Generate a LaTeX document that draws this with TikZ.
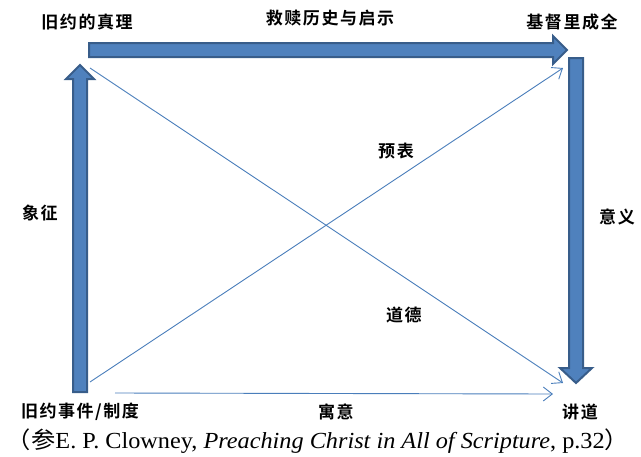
\documentclass[tikz,border=0pt]{standalone}
\usepackage{fontspec}
\usetikzlibrary{arrows.meta}
\newfontfamily\cjk{Noto Sans CJK SC}[LetterSpace=9, BoldFont={Noto Sans CJK SC Bold}]
\newfontfamily\cjkplain{Noto Sans CJK SC}
\newfontfamily\latn{Liberation Serif}
\definecolor{blockfill}{HTML}{4F81BD}
\definecolor{blockedge}{HTML}{385D8A}
\definecolor{thinline}{HTML}{4A7EBB}
\tikzset{
  lbl/.style={font=\cjk\bfseries\fontsize{17}{19}\selectfont, inner sep=0pt},
  blockarrow/.style={fill=blockfill, draw=blockedge, line width=2pt, line join=miter},
  thinarrow/.style={draw=thinline, line width=0.9pt, -{Straight Barb[length=9pt,width=14pt,line width=0.9pt]}}
}
\begin{document}
\begin{tikzpicture}[x=1pt,y=-1pt]
\useasboundingbox (0,0) rectangle (641,456);
% labels
\node[lbl] (ot) at (87,22) {旧约的真理};
\node[lbl] (rh) at (330,18) {救赎历史与启示};
\node[lbl] (cf) at (572,22) {基督里成全};
\node[lbl] (sym) at (40,213) {象征};
\node[lbl] (mean) at (617,217) {意义};
\node[lbl] (typ) at (396,151) {预表};
\node[lbl] (mor) at (404,315) {道德};
\node[lbl] (ev) at (80,412) {旧约事件/制度};
\node[lbl] (alle) at (336,412) {寓意};
\node[lbl] (pr) at (580,412) {讲道};
\node[inner sep=0pt] (cap) at (318,441) {\resizebox{622pt}{\height}{\fontsize{23}{25}\selectfont\cjkplain （参\latn E. P. Clowney, \textit{Preaching Christ in All of Scripture}, p.32\cjkplain ）}};
% block arrows
\draw[blockarrow] (89,43) -- (553,43) -- (553,36) -- (567,50) -- (553,64) -- (553,57) -- (89,57) -- cycle;
\draw[blockarrow] (73,392) -- (73,79) -- (66,79) -- (80,65) -- (94,79) -- (87,79) -- (87,392) -- cycle;
\draw[blockarrow] (569,58) -- (583,58) -- (583,368) -- (592,368) -- (576,383) -- (560,368) -- (569,368) -- cycle;
% thin arrows
\coordinate (a1) at (90,68);
\coordinate (b1) at (563,383);
\coordinate (a2) at (90,382);
\coordinate (b2) at (563,68);
\coordinate (a3) at (115,393);
\coordinate (b3) at (553,394);
\draw[thinarrow] (a1) -- (b1);
\draw[thinarrow] (a2) -- (b2);
\draw[thinarrow] (a3) -- (b3);
\end{tikzpicture}
\end{document}
